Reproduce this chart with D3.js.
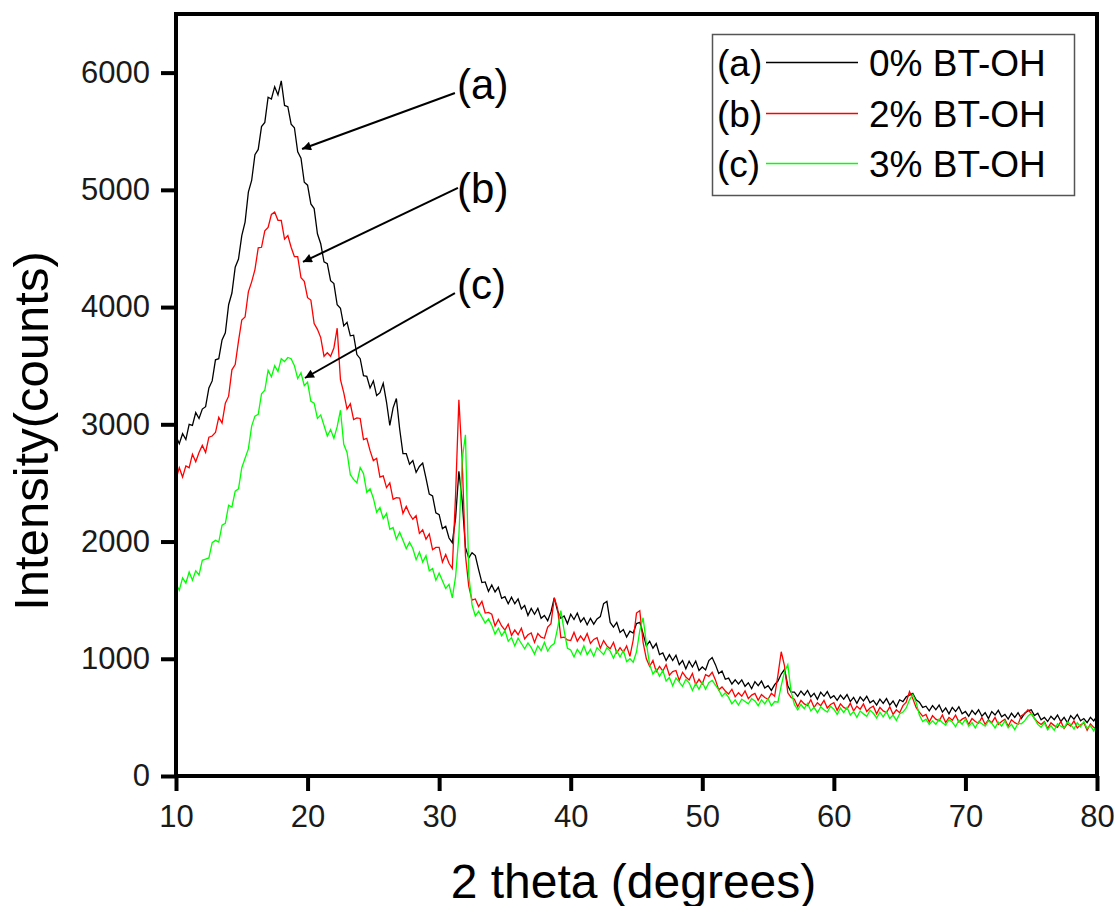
<!DOCTYPE html>
<html>
<head>
<meta charset="utf-8">
<script src="https://cdn.jsdelivr.net/npm/d3@7"></script>
<style>
  body { margin: 0; background: #fff; }
  svg { display: block; font-family: "Liberation Sans", Arial, sans-serif; }
</style>
</head>
<body>
<div id="chart"></div>
<script>
// 2 theta sampling: 10 to 80 degrees, 0.25 degree step
var thetaStart = 10, thetaStep = 0.25;

// (a) 0% BT-OH, one row per degree (x.00, x.25, x.50, x.75)
var countsA = [
  2900, 2835, 2920, 2870,  // 10
  3000, 2990, 3100, 3050,  // 11
  3130, 3150, 3310, 3370,  // 12
  3550, 3560, 3720, 3780,  // 13
  4020, 4120, 4340, 4410,  // 14
  4610, 4725, 4980, 5080,  // 15
  5300, 5345, 5540, 5575,  // 16
  5790, 5775, 5880, 5810,  // 17
  5930, 5720, 5710, 5560,  // 18
  5530, 5325, 5270, 5065,  // 19
  5040, 4880, 4840, 4625,  // 20
  4540, 4385, 4370, 4225,  // 21
  4200, 4020, 3990, 3840,  // 22
  3870, 3755, 3760, 3595,  // 23
  3560, 3415, 3410, 3310,  // 24
  3370, 3245, 3270, 3350,  // 25
  3190, 2990, 3140, 3220,  // 26
  2960, 2750, 2750, 2660,  // 27
  2690, 2590, 2640, 2670,  // 28
  2540, 2405, 2390, 2245,  // 29
  2230, 2110, 2130, 2030,  // 30
  1990, 2200, 2600, 2350,  // 31
  1950, 1860, 1905, 1880,  // 32
  1760, 1650, 1655, 1575,  // 33
  1630, 1570, 1610, 1515,  // 34
  1530, 1470, 1525, 1470,  // 35
  1510, 1425, 1455, 1370,  // 36
  1430, 1380, 1430, 1345,  // 37
  1370, 1325, 1400, 1520,  // 38
  1410, 1345, 1365, 1300,  // 39
  1380, 1335, 1390, 1315,  // 40
  1350, 1290, 1345, 1295,  // 41
  1340, 1360, 1470, 1490,  // 42
  1310, 1270, 1310, 1225,  // 43
  1250, 1185, 1235, 1220,  // 44
  1300, 1310, 1215, 1110,  // 45
  1150, 1090, 1130, 1035,  // 46
  1050,  985, 1035,  985,  // 47
  1030,  950,  985,  915,  // 48
   980,  930,  980,  900,  // 49
   930,  905,  985, 1010,  // 50
   950,  875,  895,  825,  // 51
   835,  785,  820,  785,  // 52
   820,  765,  795,  745,  // 53
   805,  770,  810,  750,  // 54
   770,  730,  780,  810,  // 55
   870,  910,  770,  715,  // 56
   715,  680,  725,  690,  // 57
   730,  675,  705,  655,  // 58
   715,  680,  720,  665,  // 59
   685,  645,  690,  655,  // 60
   695,  635,  670,  620,  // 61
   675,  640,  680,  625,  // 62
   645,  605,  655,  620,  // 63
   660,  605,  640,  590,  // 64
   650,  635,  675,  690,  // 65
   705,  650,  630,  585,  // 66
   595,  555,  600,  565,  // 67
   605,  545,  580,  530,  // 68
   585,  550,  590,  530,  // 69
   550,  510,  560,  525,  // 70
   565,  510,  540,  490,  // 71
   550,  520,  560,  505,  // 72
   525,  485,  535,  500,  // 73
   540,  490,  535,  555,  // 74
   565,  515,  535,  480,  // 75
   500,  465,  510,  480,  // 76
   520,  465,  500,  455,  // 77
   515,  485,  525,  470,  // 78
   490,  455,  500,  470,  // 79
   510                     // 80
];

// (b) 2% BT-OH
var countsB = [
  2530, 2630, 2550, 2645,  // 10
  2630, 2745, 2680, 2760,  // 11
  2820, 2760, 2890, 2900,  // 12
  2930, 3060, 3010, 3180,  // 13
  3240, 3465, 3510, 3710,  // 14
  3890, 3915, 4130, 4215,  // 15
  4320, 4505, 4510, 4650,  // 16
  4680, 4790, 4810, 4740,  // 17
  4740, 4580, 4610, 4510,  // 18
  4430, 4430, 4250, 4220,  // 19
  4080, 4060, 3860, 3810,  // 20
  3740, 3580, 3610, 3580,  // 21
  3650, 3820, 3380, 3270,  // 22
  3130, 3175, 3040, 3055,  // 23
  3050, 2870, 2880, 2775,  // 24
  2690, 2710, 2550, 2560,  // 25
  2460, 2500, 2360, 2375,  // 26
  2370, 2240, 2300, 2235,  // 27
  2190, 2220, 2070, 2100,  // 28
  2020, 2065, 1930, 1950,  // 29
  1950, 1825, 1890, 1815,  // 30
  1770, 2400, 3210, 2700,  // 31
  1880, 1620, 1500, 1510,  // 32
  1445, 1490, 1390, 1395,  // 33
  1380, 1280, 1335, 1280,  // 34
  1245, 1295, 1200, 1245,  // 35
  1205, 1260, 1170, 1205,  // 36
  1220, 1140, 1215, 1185,  // 37
  1175, 1270, 1300, 1520,  // 38
  1430, 1180, 1185, 1160,  // 39
  1155, 1225, 1150, 1195,  // 40
  1155, 1215, 1130, 1165,  // 41
  1180, 1090, 1155, 1110,  // 42
  1085, 1140, 1050, 1095,  // 43
  1055, 1110, 1020, 1160,  // 44
  1390, 1410, 1140, 1000,  // 45
   935,  985,  890,  935,  // 46
   895,  950,  860,  890,  // 47
   900,  815,  885,  845,  // 48
   820,  875,  780,  825,  // 49
   785,  865,  850,  885,  // 50
   820,  735,  760,  725,  // 51
   700,  740,  675,  710,  // 52
   680,  725,  660,  690,  // 53
   705,  645,  695,  670,  // 54
   655,  705,  680,  860,  // 55
  1060,  940,  710,  670,  // 56
   655,  590,  645,  615,  // 57
   600,  650,  585,  625,  // 58
   600,  645,  580,  610,  // 59
   625,  560,  615,  585,  // 60
   570,  620,  555,  595,  // 61
   570,  615,  550,  580,  // 62
   595,  530,  585,  555,  // 63
   540,  590,  525,  565,  // 64
   540,  600,  630,  720,  // 65
   660,  585,  545,  510,  // 66
   525,  460,  515,  485,  // 67
   470,  520,  455,  500,  // 68
   475,  520,  460,  485,  // 69
   500,  440,  490,  465,  // 70
   450,  500,  440,  480,  // 71
   455,  500,  440,  465,  // 72
   485,  425,  480,  455,  // 73
   440,  515,  530,  565,  // 74
   535,  490,  460,  440,  // 75
   465,  405,  455,  430,  // 76
   415,  465,  405,  445,  // 77
   425,  470,  410,  435,  // 78
   455,  390,  445,  415,  // 79
   400                     // 80
];

// (c) 3% BT-OH
var countsC = [
  1640, 1585, 1690, 1645,  // 10
  1740, 1670, 1750, 1715,  // 11
  1840, 1850, 1860, 1990,  // 12
  2010, 1995, 2140, 2155,  // 13
  2310, 2295, 2430, 2450,  // 14
  2630, 2710, 2790, 2985,  // 15
  3070, 3085, 3260, 3290,  // 16
  3460, 3405, 3500, 3450,  // 17
  3560, 3535, 3570, 3560,  // 18
  3500, 3390, 3440, 3330,  // 19
  3360, 3195, 3180, 3050,  // 20
  3080, 2990, 2900, 2955,  // 21
  2880, 2980, 3120, 2830,  // 22
  2760, 2570, 2530, 2500,  // 23
  2630, 2580, 2420, 2450,  // 24
  2370, 2250, 2290, 2195,  // 25
  2240, 2105, 2120, 2020,  // 26
  2080, 2010, 1940, 1995,  // 27
  1940, 1845, 1910, 1825,  // 28
  1880, 1750, 1770, 1670,  // 29
  1730, 1665, 1600, 1635,  // 30
  1520, 1700, 2050, 2700,  // 31
  2910, 1720, 1460, 1365,  // 32
  1405, 1355, 1305, 1340,  // 33
  1285, 1210, 1260, 1195,  // 34
  1240, 1150, 1180, 1110,  // 35
  1175, 1130, 1085, 1135,  // 36
  1095, 1040, 1110, 1070,  // 37
  1140, 1065, 1110, 1130,  // 38
  1260, 1410, 1240, 1090,  // 39
  1075, 1015, 1080, 1040,  // 40
  1110, 1035, 1080, 1020,  // 41
  1095, 1065, 1035, 1095,  // 42
  1065, 1005, 1070, 1015,  // 43
  1070,  975, 1000,  970,  // 44
  1060, 1240, 1350, 1130,  // 45
   950,  870,  910,  850,  // 46
   900,  810,  840,  770,  // 47
   835,  800,  765,  825,  // 48
   795,  730,  790,  740,  // 49
   800,  740,  795,  815,  // 50
   775,  735,  680,  710,  // 51
   670,  615,  650,  605,  // 52
   655,  635,  615,  660,  // 53
   640,  600,  650,  615,  // 54
   660,  600,  635,  630,  // 55
   770,  890,  950,  720,  // 56
   610,  565,  610,  575,  // 57
   620,  555,  585,  540,  // 58
   590,  565,  545,  595,  // 59
   570,  525,  580,  540,  // 60
   585,  520,  550,  500,  // 61
   555,  530,  510,  560,  // 62
   535,  495,  545,  505,  // 63
   550,  490,  520,  475,  // 64
   530,  545,  580,  650,  // 65
   695,  630,  520,  465,  // 66
   485,  440,  470,  440,  // 67
   485,  455,  435,  480,  // 68
   460,  420,  475,  440,  // 69
   485,  425,  455,  410,  // 70
   465,  445,  425,  470,  // 71
   450,  410,  460,  425,  // 72
   470,  410,  440,  395,  // 73
   450,  445,  470,  510,  // 74
   535,  490,  440,  415,  // 75
   455,  395,  430,  390,  // 76
   445,  425,  410,  460,  // 77
   440,  400,  455,  420,  // 78
   465,  405,  430,  385,  // 79
   440                     // 80
];

var seriesNames = ["0% BT-OH", "2% BT-OH", "3% BT-OH"];
var seriesTags = ["(a)", "(b)", "(c)"];
var seriesColors = ["#000000", "#ff0000", "#00ff00"];

var xTicks = [10, 20, 30, 40, 50, 60, 70, 80];
var yTicks = [0, 1000, 2000, 3000, 4000, 5000, 6000];

// arrow annotations in data units: label position, arrow tail, arrow tip
var noteLabel = [[31.36, 5775], [31.36, 4888], [31.36, 4069]];
var noteTail = [[31.2, 5826], [31.43, 5016], [31.2, 4120]];
var noteTip = [[19.58, 5348], [19.65, 4385], [19.8, 3395]];

var svgWidth = 1117, svgHeight = 906;
var plotLeft = 176, plotRight = 1097, plotTop = 14, plotBottom = 776;

var svg = d3.select("#chart").append("svg")
    .attr("width", svgWidth)
    .attr("height", svgHeight);

var x = d3.scaleLinear().domain([10, 80]).range([plotLeft, plotRight]);
var y = d3.scaleLinear().domain([0, 6500]).range([plotBottom, plotTop]);

var defs = svg.append("defs");
defs.append("clipPath").attr("id", "plotClip")
    .append("rect")
    .attr("x", plotLeft).attr("y", plotTop)
    .attr("width", plotRight - plotLeft).attr("height", plotBottom - plotTop);

var line = d3.line()
    .x(function(d, i) { return x(thetaStart + i * thetaStep); })
    .y(function(d) { return y(d); });

var plot = svg.append("g").attr("clip-path", "url(#plotClip)");
[countsA, countsB, countsC].forEach(function(s, k) {
    plot.append("path")
        .datum(s)
        .attr("fill", "none")
        .attr("stroke", seriesColors[k])
        .attr("stroke-width", 1.3)
        .attr("stroke-linejoin", "miter")
        .attr("d", line);
});

// axes
var xAxis = d3.axisBottom(x).tickValues(xTicks).tickSize(15).tickPadding(14)
    .tickFormat(d3.format("d"));
var yAxis = d3.axisLeft(y).tickValues(yTicks).tickSize(15).tickPadding(11)
    .tickFormat(d3.format("d"));

var gx = svg.append("g").attr("transform", "translate(0," + plotBottom + ")").call(xAxis);
var gy = svg.append("g").attr("transform", "translate(" + plotLeft + ",0)").call(yAxis);

[gx, gy].forEach(function(g) {
    g.select(".domain").remove();
    g.selectAll(".tick line").attr("stroke", "#000").attr("stroke-width", 4);
    g.selectAll(".tick text")
        .attr("fill", "#1a1a1a")
        .style("font-size", "31px")
        .style("font-family", "'Liberation Sans', Arial, sans-serif");
});

// frame
svg.append("rect")
    .attr("x", plotLeft).attr("y", plotTop)
    .attr("width", plotRight - plotLeft).attr("height", plotBottom - plotTop)
    .attr("fill", "none")
    .attr("stroke", "#000")
    .attr("stroke-width", 4);

// axis titles
svg.append("text")
    .attr("x", (plotLeft + plotRight) / 2 - 3)
    .attr("y", 898)
    .attr("text-anchor", "middle")
    .style("font-size", "48px")
    .text("2 theta (degrees)");

svg.append("text")
    .attr("transform", "translate(48,431) rotate(-90)")
    .attr("text-anchor", "middle")
    .style("font-size", "49px")
    .text("Intensity(counts)");

// legend
var legend = svg.append("g");
legend.append("rect")
    .attr("x", 712.5).attr("y", 34.5)
    .attr("width", 362).attr("height", 161)
    .attr("fill", "#fff")
    .attr("stroke", "#555")
    .attr("stroke-width", 1.5);

var legendRows = [76, 127, 177];
seriesNames.forEach(function(name, k) {
    var base = legendRows[k];
    legend.append("text")
        .attr("x", 717).attr("y", base)
        .style("font-size", "37px")
        .text(seriesTags[k]);
    legend.append("line")
        .attr("x1", 766).attr("x2", 858)
        .attr("y1", base - 13.5).attr("y2", base - 13.5)
        .attr("stroke", seriesColors[k])
        .attr("stroke-width", 1.5);
    legend.append("text")
        .attr("x", 869).attr("y", base)
        .style("font-size", "37px")
        .text(name);
});

// arrows with labels
defs.append("marker")
    .attr("id", "head")
    .attr("viewBox", "0 0 10 10")
    .attr("refX", 10).attr("refY", 5)
    .attr("markerWidth", 14).attr("markerHeight", 9)
    .attr("markerUnits", "userSpaceOnUse")
    .attr("orient", "auto")
    .append("path")
    .attr("d", "M0,0 L10,5 L0,10 Z")
    .attr("fill", "#000");

seriesTags.forEach(function(tag, k) {
    svg.append("line")
        .attr("x1", x(noteTail[k][0])).attr("y1", y(noteTail[k][1]))
        .attr("x2", x(noteTip[k][0])).attr("y2", y(noteTip[k][1]))
        .attr("stroke", "#000")
        .attr("stroke-width", 2)
        .attr("marker-end", "url(#head)");
    svg.append("text")
        .attr("x", x(noteLabel[k][0])).attr("y", y(noteLabel[k][1]))
        .style("font-size", "42px")
        .text(tag);
});
</script>
</body>
</html>
